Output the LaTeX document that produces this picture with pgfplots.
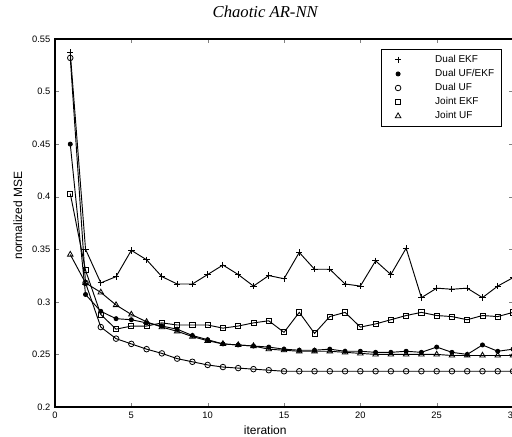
\documentclass[border=0pt]{standalone}
\usepackage{fontspec}
\setmainfont{Liberation Sans}
\newfontfamily\titlefont{Liberation Serif}
\usepackage{pgfplots}
\pgfplotsset{compat=1.18}

% 1px of the reference = 0.75pt
\begin{document}
\begin{tikzpicture}
\begin{axis}[
  name=ax, scale only axis,
  width=343.5pt, height=276pt,
  xmin=0, xmax=30, ymin=0.2, ymax=0.55,
  xtick={0,5,...,30}, ytick={0.2,0.25,...,0.55},
  tick pos=both, tick align=inside, major tick length=3pt,
  yticklabel style={/pgf/number format/fixed, /pgf/number format/precision=2},
  /pgf/number format/assume math mode=true,
  ticklabel style={font=\fontsize{7}{8}\selectfont},
  xlabel={iteration}, ylabel={normalized MSE},
  xlabel style={font=\fontsize{9}{10}\selectfont, at={(axis description cs:0.459,-0.062)}, anchor=center},
  ylabel style={font=\fontsize{9}{10}\selectfont, at={(axis description cs:-0.081,0.52)}, anchor=center},
  title={\titlefont\itshape Chaotic AR-NN},
  title style={font=\fontsize{12.5}{14}\selectfont, at={(axis description cs:0.459,1.052)}, anchor=center},
  axis line style={line width=0.8pt},
  every axis plot/.append style={black, line width=0.7pt},
  legend image code/.code={\path (0pt,0pt) (34pt,0pt); \draw[#1, only marks] plot coordinates {(8pt,0pt)};},
  legend style={at={(axis cs:29.27,0.5406)}, anchor=north east, font=\fontsize{7.5}{8.5}\selectfont,
    draw=black, line width=0.6pt, row sep=0.6pt, inner xsep=4pt, inner ysep=3pt,
    nodes={inner sep=1.5pt}},
  legend cell align=left,
]
\addplot[mark=+, mark size=2.4pt] coordinates {
 (1,0.537) (2,0.350) (3,0.318) (4,0.324) (5,0.349) (6,0.340) (7,0.324) (8,0.317) (9,0.317) (10,0.326)
 (11,0.335) (12,0.326) (13,0.315) (14,0.325) (15,0.322) (16,0.347) (17,0.331) (18,0.331) (19,0.317) (20,0.315)
 (21,0.339) (22,0.326) (23,0.351) (24,0.304) (25,0.313) (26,0.312) (27,0.313) (28,0.304) (29,0.315) (30,0.323)};
\addlegendentry{Dual EKF}
\addplot[mark=*, mark size=1.5pt] coordinates {
 (1,0.450) (2,0.307) (3,0.291) (4,0.284) (5,0.283) (6,0.280) (7,0.277) (8,0.274) (9,0.268) (10,0.264)
 (11,0.260) (12,0.259) (13,0.258) (14,0.257) (15,0.255) (16,0.254) (17,0.254) (18,0.255) (19,0.253) (20,0.253)
 (21,0.252) (22,0.252) (23,0.253) (24,0.252) (25,0.257) (26,0.252) (27,0.250) (28,0.259) (29,0.253) (30,0.255)};
\addlegendentry{Dual UF/EKF}
\addplot[mark=o, mark size=2.1pt, mark options={line width=0.6pt}] coordinates {
 (1,0.532) (2,0.318) (3,0.276) (4,0.265) (5,0.260) (6,0.255) (7,0.251) (8,0.246) (9,0.243) (10,0.240)
 (11,0.238) (12,0.237) (13,0.236) (14,0.235) (15,0.234) (16,0.234) (17,0.234) (18,0.234) (19,0.234) (20,0.234)
 (21,0.234) (22,0.234) (23,0.234) (24,0.234) (25,0.234) (26,0.234) (27,0.234) (28,0.234) (29,0.234) (30,0.234)};
\addlegendentry{Dual UF}
\addplot[mark=square, mark size=1.9pt, mark options={line width=0.6pt}] coordinates {
 (1,0.403) (2,0.330) (3,0.288) (4,0.274) (5,0.277) (6,0.277) (7,0.280) (8,0.278) (9,0.278) (10,0.278)
 (11,0.275) (12,0.277) (13,0.280) (14,0.282) (15,0.271) (16,0.290) (17,0.270) (18,0.286) (19,0.290) (20,0.276)
 (21,0.279) (22,0.283) (23,0.287) (24,0.290) (25,0.287) (26,0.286) (27,0.283) (28,0.287) (29,0.286) (30,0.290)};
\addlegendentry{Joint EKF}
\addplot[mark=triangle, mark size=2.4pt, mark options={line width=0.6pt}] coordinates {
 (1,0.345) (2,0.318) (3,0.309) (4,0.297) (5,0.288) (6,0.281) (7,0.276) (8,0.272) (9,0.267) (10,0.263)
 (11,0.260) (12,0.259) (13,0.258) (14,0.255) (15,0.254) (16,0.253) (17,0.253) (18,0.253) (19,0.252) (20,0.251)
 (21,0.250) (22,0.250) (23,0.250) (24,0.250) (25,0.250) (26,0.249) (27,0.249) (28,0.249) (29,0.249) (30,0.249)};
\addlegendentry{Joint UF}
\end{axis}
\pgfresetboundingbox
\path ([xshift=-41.25pt,yshift=-22.5pt]ax.south west) rectangle ([xshift=-0.75pt,yshift=29.25pt]ax.north east);
\end{tikzpicture}
\end{document}
